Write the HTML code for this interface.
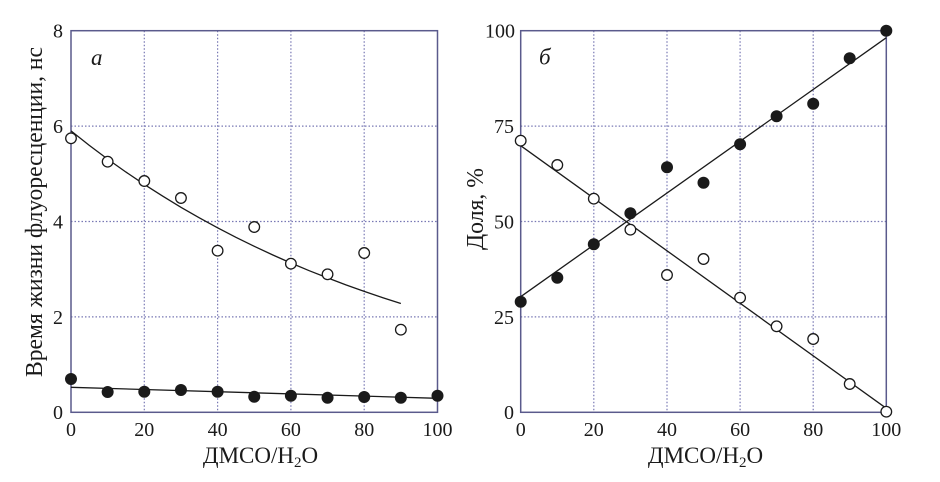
<!DOCTYPE html>
<html>
<head>
<meta charset="utf-8">
<style>
  html,body{margin:0;padding:0;background:#fff;}
  svg{display:block;}
  text{font-family:"Liberation Serif","DejaVu Serif",serif;fill:#1a1a1a;}
</style>
</head>
<body>
<svg width="940" height="482" viewBox="0 0 940 482" xmlns="http://www.w3.org/2000/svg">
  <rect x="0" y="0" width="940" height="482" fill="#ffffff"/>

  <!-- ============ LEFT PANEL ============ -->
  <g stroke="#7878b4" stroke-width="1.2" stroke-dasharray="1.5,2" fill="none">
    <line x1="144.3" y1="30.7" x2="144.3" y2="412.3"/>
    <line x1="217.6" y1="30.7" x2="217.6" y2="412.3"/>
    <line x1="290.9" y1="30.7" x2="290.9" y2="412.3"/>
    <line x1="364.2" y1="30.7" x2="364.2" y2="412.3"/>
    <line x1="71" y1="126.1" x2="437.5" y2="126.1"/>
    <line x1="71" y1="221.5" x2="437.5" y2="221.5"/>
    <line x1="71" y1="316.9" x2="437.5" y2="316.9"/>
  </g>
  <rect x="71" y="30.7" width="366.5" height="381.6" fill="none" stroke="#5a5a8c" stroke-width="1.5"/>

  <!-- curve open -->
  <polyline fill="none" stroke="#1a1a1a" stroke-width="1.3"
    points="71,130.9 89.3,145.4 107.65,159.1 126,172.1 144.3,184.4 162.6,196.1 180.95,207.3 199.3,217.8 217.6,227.8 235.9,237.3 254.25,246.3 272.6,254.9 290.9,263.0 309.2,270.7 327.55,277.9 345.9,284.9 364.2,291.4 382.5,297.6 400.85,303.5"/>
  <!-- line filled -->
  <line x1="71" y1="387.3" x2="437.5" y2="398.3" stroke="#1a1a1a" stroke-width="1.3"/>

  <g fill="#fff" stroke="#1a1a1a" stroke-width="1.3">
    <circle cx="71" cy="138.3" r="5.3"/>
    <circle cx="107.65" cy="161.7" r="5.3"/>
    <circle cx="144.3" cy="181" r="5.3"/>
    <circle cx="180.95" cy="198" r="5.3"/>
    <circle cx="217.6" cy="250.7" r="5.3"/>
    <circle cx="254.25" cy="227" r="5.3"/>
    <circle cx="290.9" cy="263.7" r="5.3"/>
    <circle cx="327.55" cy="274.3" r="5.3"/>
    <circle cx="364.2" cy="253" r="5.3"/>
    <circle cx="400.85" cy="329.7" r="5.3"/>
  </g>
  <g fill="#1a1a1a">
    <circle cx="71" cy="379" r="6"/>
    <circle cx="107.65" cy="392" r="6"/>
    <circle cx="144.3" cy="391.7" r="6"/>
    <circle cx="180.95" cy="390" r="6"/>
    <circle cx="217.6" cy="391.7" r="6"/>
    <circle cx="254.25" cy="396.7" r="6"/>
    <circle cx="290.9" cy="395.7" r="6"/>
    <circle cx="327.55" cy="397.7" r="6"/>
    <circle cx="364.2" cy="397" r="6"/>
    <circle cx="400.85" cy="397.7" r="6"/>
    <circle cx="437.5" cy="395.7" r="6"/>
  </g>

  <g font-size="20" text-anchor="end">
    <text x="63" y="419">0</text>
    <text x="63" y="324">2</text>
    <text x="63" y="228.5">4</text>
    <text x="63" y="133">6</text>
    <text x="63" y="37.5">8</text>
  </g>
  <g font-size="20" text-anchor="middle">
    <text x="71" y="436">0</text>
    <text x="144.3" y="436">20</text>
    <text x="217.6" y="436">40</text>
    <text x="290.9" y="436">60</text>
    <text x="364.2" y="436">80</text>
    <text x="437.5" y="436">100</text>
  </g>
  <text x="260.5" y="463" font-size="23" text-anchor="middle">ДМСО/H<tspan font-size="15" dy="4">2</tspan><tspan dy="-4">O</tspan></text>
  <text transform="translate(42,212) rotate(-90)" font-size="24" text-anchor="middle" textLength="330" lengthAdjust="spacingAndGlyphs">Время жизни флуоресценции, нс</text>
  <text x="91" y="65" font-size="23" font-style="italic">a</text>

  <!-- ============ RIGHT PANEL ============ -->
  <g stroke="#7878b4" stroke-width="1.2" stroke-dasharray="1.5,2" fill="none">
    <line x1="593.8" y1="30.7" x2="593.8" y2="412.3"/>
    <line x1="667" y1="30.7" x2="667" y2="412.3"/>
    <line x1="740.1" y1="30.7" x2="740.1" y2="412.3"/>
    <line x1="813.2" y1="30.7" x2="813.2" y2="412.3"/>
    <line x1="520.7" y1="126.1" x2="886.3" y2="126.1"/>
    <line x1="520.7" y1="221.5" x2="886.3" y2="221.5"/>
    <line x1="520.7" y1="316.9" x2="886.3" y2="316.9"/>
  </g>
  <rect x="520.7" y="30.7" width="365.6" height="381.6" fill="none" stroke="#5a5a8c" stroke-width="1.5"/>

  <line x1="520.7" y1="296.7" x2="886.3" y2="37.7" stroke="#1a1a1a" stroke-width="1.3"/>
  <line x1="520.7" y1="145.7" x2="886.3" y2="408.3" stroke="#1a1a1a" stroke-width="1.3"/>

  <g fill="#1a1a1a">
    <circle cx="520.7" cy="301.7" r="6"/>
    <circle cx="557.3" cy="277.7" r="6"/>
    <circle cx="593.8" cy="244.3" r="6"/>
    <circle cx="630.4" cy="213.3" r="6"/>
    <circle cx="667" cy="167.3" r="6"/>
    <circle cx="703.5" cy="182.7" r="6"/>
    <circle cx="740.1" cy="144.3" r="6"/>
    <circle cx="776.6" cy="116.3" r="6"/>
    <circle cx="813.2" cy="103.7" r="6"/>
    <circle cx="849.7" cy="58.3" r="6"/>
    <circle cx="886.3" cy="30.7" r="6"/>
  </g>
  <g fill="#fff" stroke="#1a1a1a" stroke-width="1.3">
    <circle cx="520.7" cy="140.7" r="5.3"/>
    <circle cx="557.3" cy="165" r="5.3"/>
    <circle cx="593.8" cy="198.7" r="5.3"/>
    <circle cx="630.4" cy="229.7" r="5.3"/>
    <circle cx="667" cy="275" r="5.3"/>
    <circle cx="703.5" cy="259" r="5.3"/>
    <circle cx="740.1" cy="297.7" r="5.3"/>
    <circle cx="776.6" cy="326.3" r="5.3"/>
    <circle cx="813.2" cy="339" r="5.3"/>
    <circle cx="849.7" cy="384" r="5.3"/>
    <circle cx="886.3" cy="411.7" r="5.3"/>
  </g>

  <g font-size="20" text-anchor="end">
    <text x="514" y="419">0</text>
    <text x="514" y="324">25</text>
    <text x="514" y="228.5">50</text>
    <text x="514" y="133">75</text>
    <text x="515" y="37.5">100</text>
  </g>
  <g font-size="20" text-anchor="middle">
    <text x="520.7" y="436">0</text>
    <text x="593.8" y="436">20</text>
    <text x="667" y="436">40</text>
    <text x="740.1" y="436">60</text>
    <text x="813.2" y="436">80</text>
    <text x="886.3" y="436">100</text>
  </g>
  <text x="705.5" y="463" font-size="23" text-anchor="middle">ДМСО/H<tspan font-size="15" dy="4">2</tspan><tspan dy="-4">O</tspan></text>
  <text transform="translate(483,209) rotate(-90)" font-size="24" text-anchor="middle" textLength="82" lengthAdjust="spacingAndGlyphs">Доля, %</text>
  <text x="539" y="64.5" font-size="23" font-style="italic">б</text>
</svg>
</body>
</html>
